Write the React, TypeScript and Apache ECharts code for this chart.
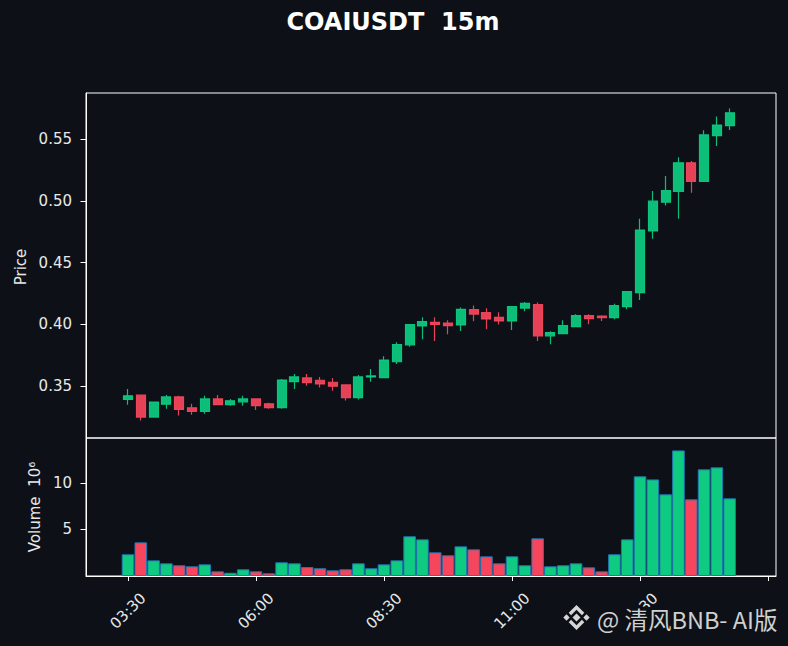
import React, { useEffect, useRef } from "react";
import * as echarts from "echarts";

// ---- data (15m candles, COAIUSDT) ----
const opens = [
  0.3390, 0.3425, 0.3248, 0.3352, 0.3411, 0.3323, 0.3293, 0.3395, 0.3349, 0.3371,
  0.3395, 0.3355, 0.3325, 0.3535, 0.3565, 0.3546, 0.3530, 0.3508, 0.3406, 0.3573,
  0.3567, 0.3696, 0.3833, 0.3986, 0.4016, 0.4010, 0.3994, 0.4119, 0.4094, 0.4056,
  0.4027, 0.4131, 0.4159, 0.3906, 0.3925, 0.3981, 0.4070, 0.4067, 0.4054, 0.4143,
  0.4256, 0.4756, 0.4990, 0.5078, 0.5309, 0.5159, 0.5530, 0.5610,
];
const closes = [
  0.3420, 0.3248, 0.3369, 0.3411, 0.3310, 0.3293, 0.3395, 0.3349, 0.3379, 0.3395,
  0.3341, 0.3325, 0.3548, 0.3573, 0.3527, 0.3516, 0.3498, 0.3406, 0.3573, 0.3581,
  0.3710, 0.3836, 0.3998, 0.4022, 0.3998, 0.3989, 0.4121, 0.4083, 0.4043, 0.4027,
  0.4143, 0.4169, 0.3906, 0.3933, 0.3989, 0.4070, 0.4046, 0.4054, 0.4151, 0.4264,
  0.4764, 0.4998, 0.5083, 0.5309, 0.5159, 0.5535, 0.5615, 0.5715,
];
const lows = [
  0.3347, 0.3220, 0.3245, 0.3315, 0.3260, 0.3266, 0.3274, 0.3345, 0.3339, 0.3339,
  0.3306, 0.3315, 0.3315, 0.3476, 0.3502, 0.3487, 0.3462, 0.3382, 0.3390, 0.3535,
  0.3565, 0.3677, 0.3817, 0.3879, 0.3865, 0.3919, 0.3946, 0.4024, 0.3960, 0.3998,
  0.3954, 0.4105, 0.3865, 0.3839, 0.3925, 0.3978, 0.4000, 0.4027, 0.4040, 0.4121,
  0.4196, 0.4694, 0.4962, 0.4855, 0.5067, 0.5159, 0.5446, 0.5575,
];
const highs = [
  0.3476, 0.3430, 0.3372, 0.3427, 0.3421, 0.3355, 0.3421, 0.3427, 0.3395, 0.3421,
  0.3400, 0.3363, 0.3556, 0.3597, 0.3597, 0.3573, 0.3565, 0.3512, 0.3589, 0.3637,
  0.3740, 0.3855, 0.4002, 0.4056, 0.4056, 0.4032, 0.4137, 0.4153, 0.4129, 0.4097,
  0.4145, 0.4180, 0.4177, 0.3944, 0.4032, 0.4081, 0.4081, 0.4073, 0.4167, 0.4267,
  0.4855, 0.5081, 0.5202, 0.5355, 0.5323, 0.5573, 0.5685, 0.5750,
];
// volume in units of 10^6
const volumes = [
  2.33, 3.61, 1.68, 1.36, 1.15, 1.04, 1.25, 0.50, 0.35, 0.72,
  0.50, 0.29, 1.47, 1.36, 0.96, 0.83, 0.61, 0.72, 1.36, 0.83,
  1.25, 1.68, 4.26, 3.93, 2.54, 2.22, 3.18, 2.86, 2.11, 1.36,
  2.11, 1.15, 4.04, 1.04, 1.15, 1.36, 0.93, 0.50, 2.33, 3.93,
  10.69, 10.36, 8.76, 13.47, 8.22, 11.44, 11.65, 8.33,
];
const xTickIndex = [0, 10, 20, 30, 40, 50];
const xLabelIndex = [0, 10, 20, 30, 40];
const xTickLabels = ["03:30", "06:00", "08:30", "11:00", "13:30"];
const priceTicks = [0.35, 0.4, 0.45, 0.5, 0.55];
const volumeTicks = [5, 10];

const BG = "#0d1117";
const UP = "#0ECB81";
const DOWN = "#F6465D";
const TXT = "#e8e8e8";
const FONT = "DejaVu Sans";

export default function App() {
  const ref = useRef<HTMLDivElement>(null);
  useEffect(() => {
    const chart = echarts.init(ref.current!, null, { renderer: "svg" });
    const candleData = opens.map((o, i) => [i, o, closes[i], lows[i], highs[i]]);
    const volData = volumes.map((v, i) => ({
      value: [i, v],
      itemStyle: { color: closes[i] >= opens[i] ? UP : DOWN },
    }));
    const xMin = -3.28;
    const xMax = 50.62;
    const axisLine = { show: true, onZero: false, lineStyle: { color: "#ffffff", width: 1 } };
    const option: any = {
      animation: false,
      backgroundColor: BG,
      textStyle: { fontFamily: FONT },
      grid: [
        { left: 86, top: 93, width: 690, height: 345, show: true, borderColor: "#ffffff", borderWidth: 1, backgroundColor: "transparent" },
        { left: 86, top: 438, width: 690, height: 138, show: true, borderColor: "#ffffff", borderWidth: 1, backgroundColor: "transparent" },
      ],
      xAxis: [
        {
          type: "value", gridIndex: 0, min: xMin, max: xMax,
          axisLine: { show: false, onZero: false }, axisTick: { show: false }, axisLabel: { show: false }, splitLine: { show: false },
        },
        {
          type: "value", gridIndex: 1, min: xMin, max: xMax, position: "bottom",
          axisLine,
          splitLine: { show: false },
          axisTick: { show: true, customValues: xTickIndex, length: 5, lineStyle: { color: "#ffffff" } },
          axisLabel: {
            show: true, customValues: xLabelIndex, rotate: 45, color: TXT, fontSize: 15, fontFamily: FONT,
            align: "center", verticalAlign: "middle", margin: 35,
            formatter: (v: number) => {
              const k = xLabelIndex.indexOf(Math.round(v));
              return k >= 0 ? xTickLabels[k] : "";
            },
          },
        },
      ],
      yAxis: [
        {
          type: "value", gridIndex: 0, min: 0.3078, max: 0.5875, position: "left",
          axisLine, splitLine: { show: false },
          axisTick: { show: true, customValues: priceTicks, length: 5.5, lineStyle: { color: "#ffffff", width: 1 } },
          axisLabel: {
            show: true, customValues: priceTicks, color: TXT, fontSize: 15, fontFamily: FONT, margin: 14,
            formatter: (v: number) => v.toFixed(2),
          },
        },
        {
          type: "value", gridIndex: 1, min: 0, max: 14.8, position: "left",
          axisLine, splitLine: { show: false },
          axisTick: { show: true, customValues: volumeTicks, length: 5.5, lineStyle: { color: "#ffffff", width: 1 } },
          axisLabel: {
            show: true, customValues: volumeTicks, color: TXT, fontSize: 15, fontFamily: FONT, margin: 14,
            formatter: (v: number) => String(v),
          },
        },
      ],
      series: [
        {
          type: "candlestick",
          xAxisIndex: 0, yAxisIndex: 0,
          data: candleData,
          encode: { x: 0, y: [1, 2, 3, 4] },
          barWidth: 9.6,
          itemStyle: {
            color: UP, color0: DOWN, borderColor: UP, borderColor0: DOWN, borderColorDoji: UP, borderWidth: 1.2,
            opacity: 0.93,
          },
        },
        {
          type: "bar",
          xAxisIndex: 1, yAxisIndex: 1,
          data: volData,
          barWidth: 12.6,
          itemStyle: { borderColor: "#1f77b4", borderWidth: 1 },
        },
      ],
      graphic: [
        {
          type: "text", x: 393, y: 22, z: 50,
          style: { text: "COAIUSDT  15m", fill: "#ffffff", font: `bold 24px '${FONT}'`, align: "center", verticalAlign: "middle" },
        },
        {
          type: "text", x: 21, y: 267, rotation: Math.PI / 2, z: 50,
          style: { text: "Price", fill: TXT, font: `15px '${FONT}'`, align: "center", verticalAlign: "middle" },
        },
        {
          type: "text", x: 35, y: 507, rotation: Math.PI / 2, z: 50,
          style: { text: "Volume  10\u2076", fill: TXT, font: `15px '${FONT}'`, align: "center", verticalAlign: "middle" },
        },
        {
          type: "rect", z: 100, shape: { x: 558, y: 607, width: 230, height: 39 },
          style: { fill: BG },
        },
        {
          type: "group", z: 101,
          children: [
            { type: "polygon", z: 101, shape: { points: [[576.5, 613.5], [580.5, 617.5], [576.5, 621.5], [572.5, 617.5]] }, style: { fill: "#d6d6d6" } },
            { type: "polygon", z: 101, shape: { points: [[566.5, 614.3], [569.7, 617.5], [566.5, 620.7], [563.3, 617.5]] }, style: { fill: "#d6d6d6" } },
            { type: "polygon", z: 101, shape: { points: [[586.5, 614.3], [589.7, 617.5], [586.5, 620.7], [583.3, 617.5]] }, style: { fill: "#d6d6d6" } },
            { type: "polygon", z: 101, shape: { points: [[576.5, 605], [584.3, 612.8], [581.9, 615.2], [576.5, 609.8], [571.1, 615.2], [568.7, 612.8]] }, style: { fill: "#d6d6d6" } },
            { type: "polygon", z: 101, shape: { points: [[576.5, 630], [584.3, 622.2], [581.9, 619.8], [576.5, 625.2], [571.1, 619.8], [568.7, 622.2]] }, style: { fill: "#d6d6d6" } },
          ],
        },
        {
          type: "text", x: 597, y: 619, z: 101,
          style: { text: "@ 清风BNB- AI版", fill: "#d0d0d0", font: "23.5px 'Noto Sans CJK SC'", align: "left", verticalAlign: "middle" },
        },
      ],
    };
    chart.setOption(option);
    return () => chart.dispose();
  }, []);
  return <div ref={ref} style={{ position: "fixed", left: 0, top: 0, width: 788, height: 646 }} />;
}
